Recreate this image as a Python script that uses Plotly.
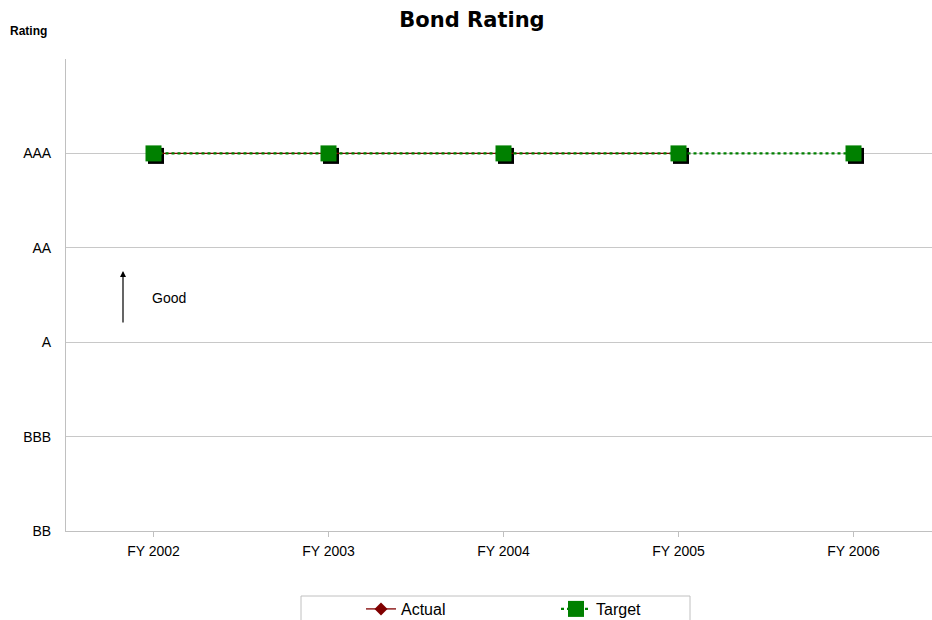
import plotly.graph_objects as go

categories = ["FY 2002", "FY 2003", "FY 2004", "FY 2005", "FY 2006"]
rating_labels = ["BB", "BBB", "A", "AA", "AAA", ""]
actual = ["AAA", "AAA", "AAA", "AAA", None]
target = ["AAA", "AAA", "AAA", "AAA", "AAA"]

def to_num(vals):
    return [rating_labels.index(v) if v is not None else None for v in vals]

xi = list(range(len(categories)))
W, H = 932, 620
L, R, T, B = 66, 0, 59, 89
pw, ph = W - L - R, H - T - B
catw = 175.0
xr = [-0.5, -0.5 + pw / catw]
yr = [0, 5]
sh = 2.5  # shadow offset in px
xs = sh / catw
ys = sh * (yr[1] - yr[0]) / ph

fig = go.Figure()

# shadow of target markers (base axes, drawn first = underneath)
fig.add_trace(go.Scatter(x=xi, y=to_num(target), mode="markers", xaxis="x", yaxis="y",
                         marker=dict(symbol="square", size=16, color="black"),
                         showlegend=False, hoverinfo="skip"))

fig.add_trace(go.Scatter(x=xi, y=to_num(actual), name="Actual", mode="lines+markers",
                         xaxis="x2", yaxis="y2",
                         line=dict(color="#800000", width=1.3),
                         marker=dict(symbol="diamond", size=10, color="#800000")))
fig.add_trace(go.Scatter(x=xi, y=to_num(target), name="Target", mode="lines+markers",
                         xaxis="x2", yaxis="y2",
                         line=dict(color="#008000", width=2.2, dash="dot"),
                         marker=dict(symbol="square", size=16, color="#008000")))

fig.update_layout(
    width=W, height=H,
    margin=dict(l=L, r=R, t=T, b=B, autoexpand=False),
    paper_bgcolor="white", plot_bgcolor="white",
    font=dict(family="Liberation Sans, Arial, sans-serif", size=14, color="black"),
    title=dict(text="<b>Bond Rating</b>", x=472 / W, xanchor="center", y=1 - 20 / H, yanchor="middle",
               font=dict(family="DejaVu Sans, sans-serif", size=21, color="black")),
    xaxis=dict(range=[xr[0] - xs, xr[1] - xs], visible=False, fixedrange=True),
    yaxis=dict(range=[yr[0] + ys, yr[1] + ys], visible=False, fixedrange=True),
    xaxis2=dict(range=xr, overlaying="x", tickvals=xi, ticktext=categories, showgrid=False,
                showline=True, linecolor="#c0c0c0", linewidth=1,
                ticks="outside", tickson="boundaries", ticklen=5, tickcolor="#c0c0c0",
                ticklabelstandoff=2, tickfont=dict(size=14), fixedrange=True, zeroline=False,
                side="bottom", anchor="y2"),
    yaxis2=dict(range=yr, overlaying="y", tickvals=list(range(6)), ticktext=rating_labels,
                showgrid=True, gridcolor="#c8c8c8", gridwidth=1,
                showline=True, linecolor="#c0c0c0", linewidth=1,
                ticks="", ticklabelstandoff=11, tickfont=dict(size=14),
                zeroline=False, fixedrange=True, side="left", anchor="x2"),
    legend=dict(orientation="h", xref="container", yref="container",
                x=361 / W, xanchor="left", y=1 - 609 / H, yanchor="middle",
                borderwidth=0, font=dict(size=16), bgcolor="rgba(0,0,0,0)",
                entrywidthmode="pixels", entrywidth=150),
    showlegend=True,
)

# legend frame
fig.add_shape(type="rect", xref="paper", yref="paper",
              x0=(301 - L) / pw, x1=(690 - L) / pw, y0=-(625 - T - ph) / ph, y1=-(596 - T - ph) / ph,
              line=dict(color="#c0c0c0", width=1), fillcolor="rgba(0,0,0,0)")

fig.add_annotation(text="<b>Rating</b>", xref="paper", yref="paper", x=-58 / pw, y=1 + 28 / ph,
                   xanchor="left", yanchor="middle", showarrow=False, font=dict(size=12))
fig.add_annotation(text="Good", xref="paper", yref="paper", x=(150 - L) / pw, y=1 - (298 - T) / ph,
                   xanchor="left", yanchor="middle", showarrow=False, font=dict(size=14))
fig.add_annotation(text="", xref="paper", yref="paper", axref="pixel", ayref="pixel",
                   x=(123 - L) / pw, y=1 - (271 - T) / ph, ax=0, ay=53,
                   showarrow=True, arrowhead=2, arrowsize=1, arrowwidth=1.2, arrowcolor="black")

fig.write_html("out.html")
